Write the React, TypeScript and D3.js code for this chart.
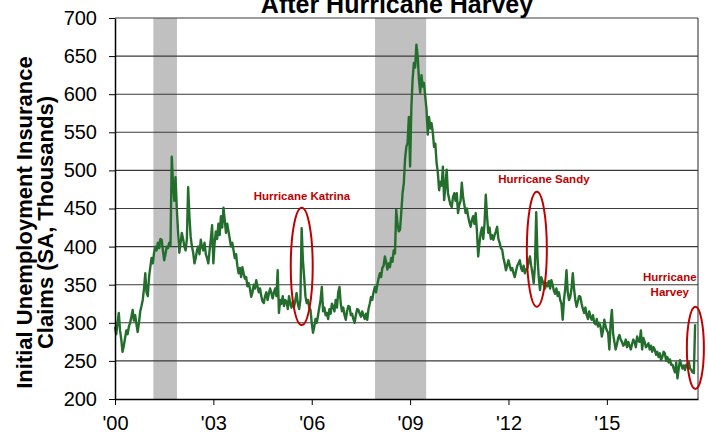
import React, { useEffect, useRef } from 'react';
import * as d3 from 'd3';

// Initial claims, SA, thousands - two readings per month
const y2000 = [295, 285, 300, 313, 290, 278, 262, 270, 280, 290, 285, 295, 300, 308, 317, 303, 310, 298, 288, 300, 315, 322, 330, 345, 365, 340];
const y2001 = [335, 360, 373, 385, 378, 392, 400, 395, 405, 398, 410, 409, 395, 382, 390, 400, 398, 405, 402, 518, 483, 460, 491, 450, 420, 392];
const y2002 = [405, 418, 410, 400, 395, 410, 478, 440, 413, 400, 392, 378, 385, 395, 400, 390, 409, 400, 395, 405, 390, 385, 378, 395, 410, 428];
const y2003 = [378, 405, 420, 410, 430, 415, 440, 425, 451, 435, 418, 430, 420, 410, 400, 405, 395, 385, 390, 375, 365, 372, 360, 373, 365, 358];
const y2004 = [360, 348, 352, 345, 334, 340, 350, 345, 356, 348, 340, 345, 335, 328, 326, 335, 340, 330, 338, 345, 339, 332, 340, 345, 335, 369];
const y2005 = [313, 330, 325, 335, 322, 330, 328, 318, 335, 325, 320, 328, 321, 330, 339, 325, 318, 330, 424, 382, 360, 335, 326, 330, 320, 317];
const y2006 = [300, 287, 295, 305, 300, 310, 320, 330, 347, 315, 320, 310, 313, 305, 318, 312, 325, 321, 315, 330, 320, 340, 347, 325, 315, 320];
const y2007 = [310, 304, 315, 322, 321, 310, 312, 305, 300, 310, 318, 317, 312, 308, 315, 310, 305, 312, 304, 318, 325, 334, 330, 340, 347, 340];
const y2008 = [350, 358, 365, 360, 372, 375, 387, 380, 370, 378, 373, 385, 380, 395, 391, 448, 430, 420, 422, 445, 470, 483, 515, 531, 536, 570];
const y2009 = [505, 583, 620, 641, 635, 665, 650, 620, 602, 625, 610, 615, 597, 580, 547, 570, 555, 562, 550, 531, 535, 510, 497, 474, 485, 480];
const y2010 = [505, 461, 480, 501, 470, 462, 455, 452, 465, 470, 460, 470, 444, 455, 460, 484, 465, 455, 444, 450, 440, 432, 426, 435, 440, 430];
const y2011 = [444, 420, 387, 405, 418, 425, 410, 430, 468, 440, 418, 425, 410, 415, 409, 415, 420, 426, 410, 405, 398, 396, 385, 378, 369, 375];
const y2012 = [382, 375, 369, 372, 365, 360, 368, 375, 378, 382, 372, 368, 375, 365, 370, 372, 380, 387, 375, 365, 352, 375, 445, 387, 360, 343];
const y2013 = [360, 355, 350, 345, 352, 348, 355, 345, 356, 350, 342, 338, 345, 335, 340, 330, 325, 304, 330, 345, 369, 340, 330, 334, 345, 365];
const y2014 = [345, 330, 321, 328, 335, 334, 325, 318, 313, 320, 310, 305, 315, 308, 304, 310, 300, 298, 305, 295, 300, 295, 282, 290, 304, 295];
const y2015 = [290, 287, 265, 300, 317, 285, 275, 265, 272, 280, 284, 278, 275, 270, 272, 278, 268, 275, 270, 265, 272, 278, 275, 268, 282, 276];
const y2016 = [275, 290, 265, 280, 275, 268, 270, 273, 265, 270, 262, 268, 265, 258, 262, 255, 260, 251, 255, 262, 260, 250, 255, 248, 252, 245];
const y2017 = [245, 240, 235, 248, 227, 240, 251, 245, 240, 244, 238, 245, 242, 249, 240, 238, 235, 234, 298];

const yearlyClaims = [y2000, y2001, y2002, y2003, y2004, y2005, y2006, y2007, y2008, y2009,
  y2010, y2011, y2012, y2013, y2014, y2015, y2016, y2017];
const firstYear = 2000;
const readingsPerYear = 26;

// recession periods (decimal years)
const recessions = [[2001.17, 2001.89], [2007.93, 2009.49]];

const xTicks = [2000, 2003, 2006, 2009, 2012, 2015];
const yTicks = [200, 250, 300, 350, 400, 450, 500, 550, 600, 650, 700];

// hurricane call-outs: ellipse extent and label anchor, in data units
const hurricanes = [
  { label: ['Hurricane Katrina'], x0: 2005.36, x1: 2006.03, v0: 297, v1: 451, lx: 2005.7, lv: 461 },
  { label: ['Hurricane Sandy'], x0: 2012.56, x1: 2013.17, v0: 321, v1: 472, lx: 2013.08, lv: 484 },
  { label: ['Hurricane', 'Harvey'], x0: 2017.44, x1: 2017.96, v0: 213, v1: 321, lx: 2016.92, lv: 355 },
];

const App = () => {
  const ref = useRef<SVGSVGElement>(null);

  useEffect(() => {
    const width = 708;
    const height = 433;
    const margin = { top: 18, right: 10, bottom: 34, left: 115 };
    const innerWidth = width - margin.left - margin.right;
    const innerHeight = height - margin.top - margin.bottom;
    const font = 'Arial, Liberation Sans, sans-serif';

    const svg = d3.select(ref.current);
    svg.selectAll('*').remove();

    const series = yearlyClaims.flatMap((vals, yi) =>
      vals.map((v, i) => ({ t: firstYear + yi + i / readingsPerYear, v })));

    const x = d3.scaleLinear().domain([2000, 2017.78]).range([0, innerWidth]);
    const y = d3.scaleLinear().domain([200, 700]).range([innerHeight, 0]);

    const g = svg.append('g').attr('transform', `translate(${margin.left},${margin.top})`);

    // recession shading
    g.selectAll('.rec')
      .data(recessions)
      .enter()
      .append('rect')
      .attr('x', d => x(d[0]))
      .attr('width', d => x(d[1]) - x(d[0]))
      .attr('y', 0)
      .attr('height', innerHeight)
      .attr('fill', '#c0c0c0');

    // gridlines
    g.selectAll('.grid')
      .data(yTicks.slice(1))
      .enter()
      .append('line')
      .attr('x1', 0)
      .attr('x2', innerWidth)
      .attr('y1', d => y(d))
      .attr('y2', d => y(d))
      .attr('stroke', '#3a3a3a')
      .attr('stroke-width', 1.1);

    // right frame
    g.append('line')
      .attr('x1', innerWidth).attr('x2', innerWidth)
      .attr('y1', 0).attr('y2', innerHeight)
      .attr('stroke', '#3a3a3a').attr('stroke-width', 1.1);

    // claims line
    const line = d3.line<{ t: number; v: number }>()
      .x(d => x(d.t))
      .y(d => y(d.v));

    g.append('path')
      .datum(series)
      .attr('fill', 'none')
      .attr('stroke', '#236e2d')
      .attr('stroke-width', 2.4)
      .attr('stroke-linejoin', 'round')
      .attr('d', line);

    // axes
    const yAxis = g.append('g')
      .call(d3.axisLeft(y).tickValues(yTicks).tickSize(6).tickPadding(12).tickSizeOuter(0));
    yAxis.select('.domain').attr('stroke', '#000').attr('stroke-width', 1.5);
    yAxis.selectAll('line').attr('stroke', '#000');
    yAxis.selectAll('text')
      .attr('font-family', font)
      .attr('font-size', '20px')
      .attr('fill', '#000');

    const xAxis = g.append('g')
      .attr('transform', `translate(0,${innerHeight})`)
      .call(d3.axisBottom(x)
        .tickValues(xTicks)
        .tickSize(6)
        .tickPadding(11)
        .tickSizeOuter(0)
        .tickFormat(d => `'${String(d).slice(2)}`));
    xAxis.select('.domain').attr('stroke', '#000').attr('stroke-width', 1.5);
    xAxis.selectAll('line').attr('stroke', '#000');
    xAxis.selectAll('text')
      .attr('font-family', font)
      .attr('font-size', '20px')
      .attr('fill', '#000');

    // hurricane ellipses + labels
    hurricanes.forEach(h => {
      const cx = (x(h.x0) + x(h.x1)) / 2;
      const cy = (y(h.v0) + y(h.v1)) / 2;
      g.append('ellipse')
        .attr('cx', cx)
        .attr('cy', cy)
        .attr('rx', (x(h.x1) - x(h.x0)) / 2)
        .attr('ry', (y(h.v0) - y(h.v1)) / 2)
        .attr('fill', 'none')
        .attr('stroke', '#c00000')
        .attr('stroke-width', 2);

      const t = g.append('text')
        .attr('x', x(h.lx))
        .attr('y', y(h.lv))
        .attr('text-anchor', 'middle')
        .attr('font-family', font)
        .attr('font-size', '11.5px')
        .attr('font-weight', 'bold')
        .attr('fill', '#c00000');
      h.label.forEach((s, i) => {
        t.append('tspan')
          .attr('x', x(h.lx))
          .attr('dy', i === 0 ? 0 : 15)
          .text(s);
      });
    });

    // title (partly cut at the top, as in the source)
    svg.append('text')
      .attr('x', 397)
      .attr('y', 13)
      .attr('text-anchor', 'middle')
      .attr('font-family', font)
      .attr('font-size', '25px')
      .attr('font-weight', 'bold')
      .text('After Hurricane Harvey');

    // y-axis title
    const yt = svg.append('text')
      .attr('transform', `translate(32,${margin.top + innerHeight / 2 + 14}) rotate(-90)`)
      .attr('text-anchor', 'middle')
      .attr('font-family', font)
      .attr('font-size', '22px')
      .attr('font-weight', 'bold');
    yt.append('tspan').attr('x', 0).attr('dy', 0).text('Initial Unemployment Insurance');
    yt.append('tspan').attr('x', 0).attr('dy', 21).text('Claims (SA, Thousands)');
  }, []);

  return (
    <svg
      ref={ref}
      width={708}
      height={433}
      style={{ position: 'absolute', left: 0, top: 0, background: '#fff' }}
    />
  );
};

export default App;
